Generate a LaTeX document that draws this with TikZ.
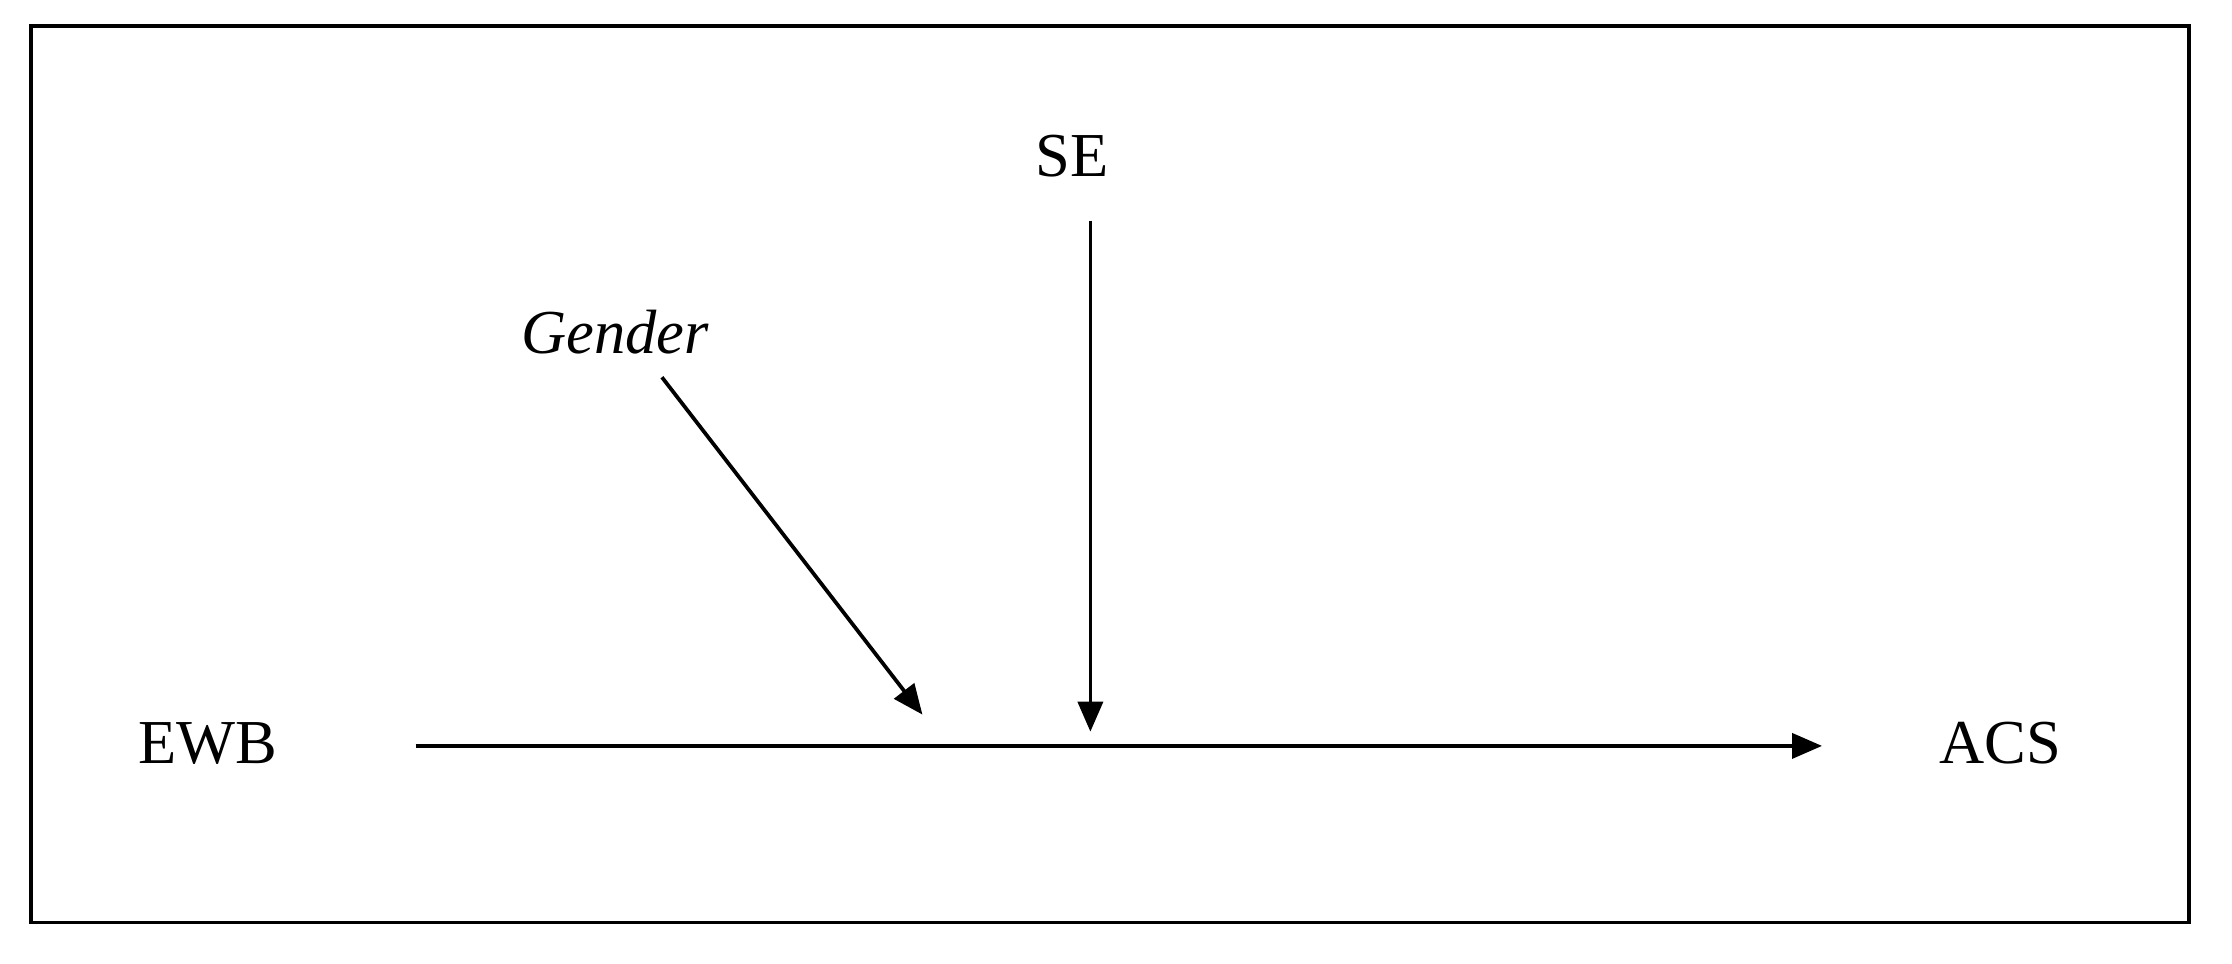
\documentclass[tikz,border=0pt]{standalone}
\usepackage{fontspec}
\setmainfont{Liberation Serif}
\usetikzlibrary{arrows.meta}
\begin{document}
\begin{tikzpicture}[x=0.02cm,y=-0.02cm,
  lbl/.style={font=\fontsize{25}{28}\selectfont},
  arr/.style={line width=1.5pt,-{Triangle[length=12pt,width=10pt]}}]
\useasboundingbox (0,0) rectangle (1568,677);
\draw[line width=1.5pt] (22,18) rectangle (1538,648);
\node[lbl] (ewb) at (146,522) {EWB};
\node[lbl] (acs) at (1405,522) {ACS};
\node[lbl] (se) at (753,110) {SE};
\node[lbl] (gen) at (432,233) {\itshape Gender};
\coordinate (m1) at (292,524);
\coordinate (m2) at (1280,524);
\coordinate (s1) at (766,155);
\coordinate (s2) at (766,514);
\coordinate (g1) at (465,265);
\coordinate (g2) at (648,502);
\draw[arr] (m1) -- (m2);
\draw[arr] (s1) -- (s2);
\draw[arr] (g1) -- (g2);
\end{tikzpicture}
\end{document}
